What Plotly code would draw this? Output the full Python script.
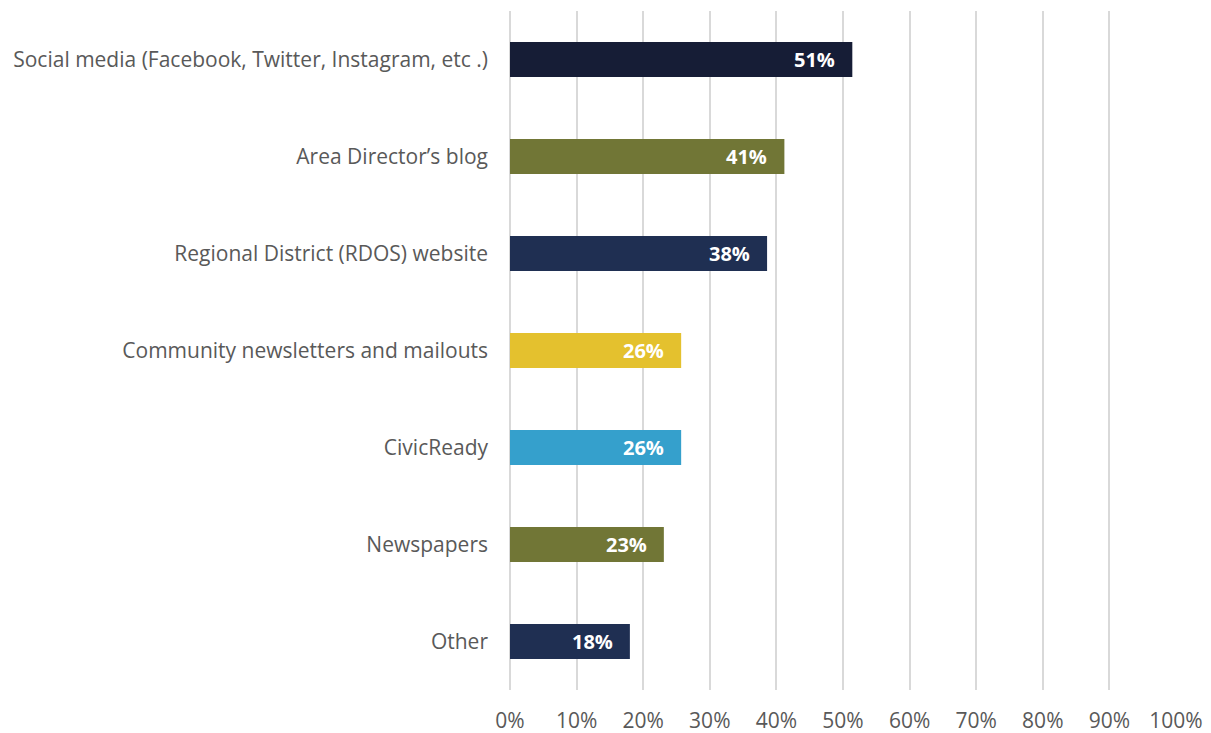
import plotly.graph_objects as go

categories = [
    "Social media (Facebook, Twitter, Instagram, etc .)",
    "Area Director\u2019s blog",
    "Regional District (RDOS) website",
    "Community newsletters and mailouts",
    "CivicReady",
    "Newspapers",
    "Other",
]
values = [51.4, 41.2, 38.6, 25.7, 25.7, 23.1, 18.0]
labels = ["51%", "41%", "38%", "26%", "26%", "23%", "18%"]
colors = ["#161d36", "#717636", "#1f2f52", "#e4c12e", "#35a0cc", "#717636", "#1f2f52"]
tick_vals = [0, 10, 20, 30, 40, 50, 60, 70, 80, 90, 100]
tick_text = ["0%", "10%", "20%", "30%", "40%", "50%", "60%", "70%", "80%", "90%", "100%"]

FONT = "Open Sans"

fig = go.Figure()
fig.add_trace(go.Bar(
    y=categories,
    x=values,
    orientation="h",
    marker=dict(color=colors, line=dict(width=0)),
    width=0.36,
    hoverinfo="skip",
))

for c, v, t in zip(categories, values, labels):
    fig.add_annotation(
        x=v, y=c, text="<b>%s</b>" % t, showarrow=False,
        xanchor="right", yanchor="middle", xshift=-15,
        font=dict(family=FONT, size=20, color="white"),
    )

fig.update_layout(
    width=1211, height=733,
    margin=dict(l=502, r=43, t=3, b=51, autoexpand=False),
    paper_bgcolor="white", plot_bgcolor="white",
    showlegend=False,
    font=dict(family=FONT, color="#595959", size=21),
    xaxis=dict(
        range=[0, 100], tickvals=tick_vals, ticktext=tick_text,
        showgrid=True, gridcolor="#d9d9d9", gridwidth=2,
        zeroline=True, zerolinecolor="#d9d9d9", zerolinewidth=2,
        showline=False,
        ticks="", ticklabelstandoff=16,
        tickfont=dict(family=FONT, size=21, color="#595959"),
        automargin=False,
    ),
    yaxis=dict(
        categoryorder="array", categoryarray=categories[::-1],
        autorange=False, range=[-0.5, 6.5],
        showgrid=False, zeroline=False, showline=False,
        ticks="", ticklabelstandoff=21,
        tickfont=dict(family=FONT, size=21, color="#595959"),
        automargin=False,
    ),
)

fig.write_html("out.html")
